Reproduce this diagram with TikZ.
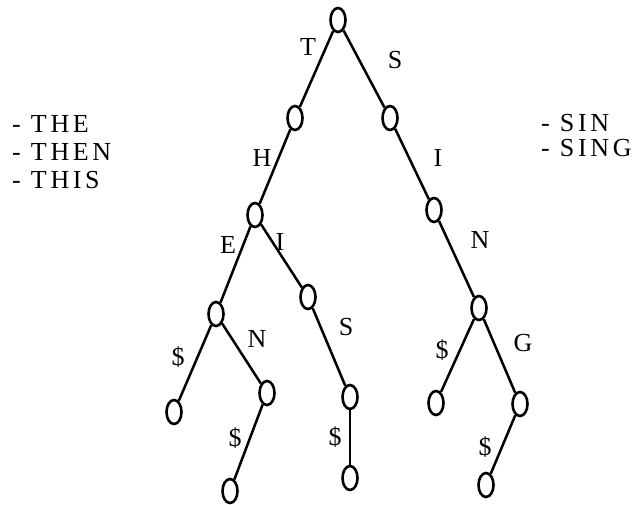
\documentclass[tikz,border=0pt]{standalone}
\usepackage{fontspec}
\setmainfont{Liberation Serif}[LetterSpace=14]
\usetikzlibrary{shapes.geometric}
\begin{document}
\begin{tikzpicture}[x=1pt,y=-1pt,
  trienode/.style={draw,ellipse,line width=2.6pt,minimum width=15pt,minimum height=24pt,inner sep=0pt},
  edge/.style={line width=2.5pt},
  lbl/.style={font=\fontsize{26}{30}\selectfont,inner sep=0pt},
  word/.style={font=\fontsize{26}{30}\selectfont,anchor=west,inner sep=0pt}]
\useasboundingbox (0,0) rectangle (639,504);
% nodes of the trie
\node[trienode] (r) at (338,20) {};
\node[trienode] (t) at (295,118) {};
\node[trienode] (s) at (390,118) {};
\node[trienode] (th) at (255,215) {};
\node[trienode] (si) at (434,210) {};
\node[trienode] (the) at (216,314) {};
\node[trienode] (thi) at (308,297) {};
\node[trienode] (sin) at (479,308) {};
\node[trienode] (thed) at (174,412) {};
\node[trienode] (then) at (267,393) {};
\node[trienode] (this) at (350,397) {};
\node[trienode] (sind) at (436,403) {};
\node[trienode] (sing) at (520,404) {};
\node[trienode] (thend) at (230,491) {};
\node[trienode] (thisd) at (350,478) {};
\node[trienode] (singd) at (486,485) {};
% edges
\draw[edge] (r) -- (t);
\draw[edge] (r) -- (s);
\draw[edge] (t) -- (th);
\draw[edge] (s) -- (si);
\draw[edge] (th) -- (the);
\draw[edge] (th) -- (thi);
\draw[edge] (si) -- (sin);
\draw[edge] (the) -- (thed);
\draw[edge] (the) -- (then);
\draw[edge] (thi) -- (this);
\draw[edge] (sin) -- (sind);
\draw[edge] (sin) -- (sing);
\draw[edge] (then) -- (thend);
\draw[edge] (this) -- (thisd);
\draw[edge] (sing) -- (singd);
% edge labels
\node[lbl] (lt) at (308,47) {T};
\node[lbl] (ls) at (395,60) {S};
\node[lbl] (lh) at (262,158) {H};
\node[lbl] (li1) at (438,158) {I};
\node[lbl] (le) at (228,245) {E};
\node[lbl] (li2) at (280,242) {I};
\node[lbl] (ln1) at (480,240) {N};
\node[lbl] (ls2) at (346,327) {S};
\node[lbl] (ln2) at (257,339) {N};
\node[lbl] (ld1) at (178,357) {\$};
\node[lbl] (ld2) at (235,438) {\$};
\node[lbl] (ld3) at (335,437) {\$};
\node[lbl] (ld4) at (442,350) {\$};
\node[lbl] (lg) at (523,343) {G};
\node[lbl] (ld5) at (485,447) {\$};
% word lists
\node[word] (w1) at (12,124) {- THE};
\node[word] (w2) at (12,152) {- THEN};
\node[word] (w3) at (12,180) {- THIS};
\node[word] (w4) at (541,123) {- SIN};
\node[word] (w5) at (541,148) {- SING};
\end{tikzpicture}
\end{document}
